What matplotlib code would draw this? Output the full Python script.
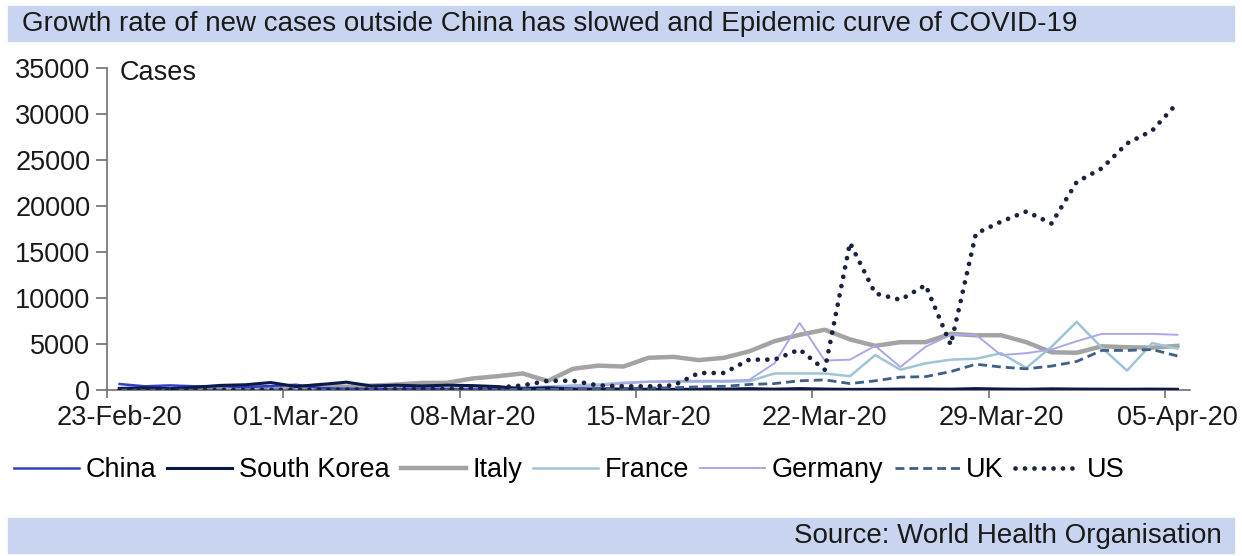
import numpy as np
import matplotlib
matplotlib.use("Agg")
import matplotlib.pyplot as plt
from matplotlib.patches import Rectangle

plt.rcParams['font.family'] = ['Liberation Sans', 'DejaVu Sans']

# ---- data (daily new cases, 23-Feb-20 .. 05-Apr-20) ----
china = [650, 400, 500, 400, 430, 330, 430, 570, 200, 130, 120, 140, 150, 100, 50, 45,
         20, 30, 25, 10, 20, 30, 30, 40, 40, 80, 40, 40, 50, 80, 70, 50, 60, 80, 60, 50,
         30, 50, 40, 40, 70, 50, 50]
south_korea = [170, 230, 140, 280, 500, 570, 810, 380, 600, 850, 440, 520, 440, 520, 480,
               370, 130, 240, 110, 110, 110, 80, 70, 85, 95, 150, 90, 150, 100, 65, 75,
               100, 105, 90, 150, 105, 80, 125, 100, 90, 85, 95, 80]
italy = [100, 60, 100, 100, 80, 250, 240, 240, 560, 350, 470, 590, 770, 780, 1250, 1500,
         1800, 980, 2300, 2650, 2550, 3500, 3600, 3250, 3500, 4200, 5300, 6000, 6550, 5500,
         4800, 5200, 5200, 6100, 5950, 5950, 5200, 4100, 4050, 4750, 4650, 4600, 4800]
france = [0, 0, 2, 0, 20, 20, 40, 30, 60, 20, 80, 90, 140, 200, 180, 250, 290, 370, 500,
          600, 800, 900, 900, 900, 900, 950, 1800, 1800, 1800, 1500, 3800, 2200, 2900, 3300,
          3400, 4000, 2400, 4700, 7400, 4600, 2100, 5100, 4500]
germany = [0, 0, 2, 10, 20, 40, 20, 60, 40, 30, 80, 100, 170, 130, 150, 250, 280, 350, 370,
           450, 700, 900, 1000, 1000, 1000, 1100, 2900, 7300, 3200, 3300, 4800, 2500, 4700,
           6000, 6000, 3800, 4000, 4400, 5300, 6100, 6100, 6100, 6000]
uk = [0, 0, 0, 4, 2, 5, 3, 12, 10, 8, 20, 30, 40, 40, 50, 60, 80, 70, 130, 150, 160, 200,
      250, 350, 400, 600, 700, 1000, 1100, 700, 1000, 1400, 1450, 2000, 2800, 2500, 2300,
      2600, 3100, 4300, 4300, 4400, 3700]
us = [0, 10, 20, 10, 10, 20, 20, 30, 20, 40, 60, 80, 100, 100, 200, 250, 500, 1000, 1000,
      500, 400, 400, 500, 1850, 1850, 3300, 3300, 4400, 2200, 16000, 10500, 9800, 11400,
      4900, 17000, 18300, 19400, 18100, 22600, 24100, 26800, 28200, 31200]

tick_labels = ['23-Feb-20', '01-Mar-20', '08-Mar-20', '15-Mar-20',
               '22-Mar-20', '29-Mar-20', '05-Apr-20']
yticks = [0, 5000, 10000, 15000, 20000, 25000, 30000, 35000]

title = "Growth rate of new cases outside China has slowed and Epidemic curve of COVID-19"
source = "Source: World Health Organisation"

# ---- figure ----
W, H = 1242, 556
fig = plt.figure(figsize=(W / 100, H / 100), dpi=100)
band = '#c8d4f0'
txt = '#1a1a1a'
fig.patches.append(Rectangle((8 / W, 1 - 41 / H), 1226 / W, 35 / H,
                             transform=fig.transFigure, color=band, zorder=0))
fig.patches.append(Rectangle((8 / W, 1 - 553 / H), 1226 / W, 35 / H,
                             transform=fig.transFigure, color=band, zorder=0))
fig.text(22 / W, 1 - 24 / H, title, fontsize=20, color=txt, ha='left', va='center')
fig.text(1222 / W, 1 - 536 / H, source, fontsize=20, color=txt, ha='right', va='center')

ax = fig.add_axes([107 / W, 1 - 390 / H, (1190 - 107) / W, (390 - 68) / H])
x = np.arange(len(china))

ax.plot(x, china, color='#2f3fc8', lw=1.8, label='China', zorder=3)
ax.plot(x, south_korea, color='#0b1848', lw=2.2, label='South Korea', zorder=3)
ax.plot(x, italy, color='#a3a3a3', lw=3.2, label='Italy', zorder=2)
ax.plot(x, france, color='#9fc4d8', lw=1.8, label='France', zorder=2)
ax.plot(x, germany, color='#aba7e8', lw=1.4, label='Germany', zorder=2)
ax.plot(x, uk, color='#3e5f86', lw=2.0, ls=(0, (3.2, 1.8)), label='UK', zorder=4)
ax.plot(x, us, color='#1b2140', lw=3.4, ls=(0, (0.01, 2.0)),
        dash_capstyle='round', label='US', zorder=5)

ax.set_xlim(-0.5, len(china) - 0.5)
ax.set_ylim(0, 35000)
ax.set_yticks(yticks)
ax.set_yticklabels([str(v) for v in yticks])
ax.set_xticks(np.arange(0, len(china), 7))
ax.set_xticklabels(tick_labels)
ax.set_xticks(np.arange(-0.5, len(china), 7), minor=True)
ax.tick_params(axis='x', which='major', length=0, pad=11, labelsize=19.5,
               labelcolor=txt)
ax.tick_params(axis='x', which='minor', length=6, width=1.2, color='#6e6e6e')
ax.tick_params(axis='y', length=8, width=1.2, color='#6e6e6e', pad=4,
               labelsize=19.5, labelcolor=txt)
for s in ['top', 'right']:
    ax.spines[s].set_visible(False)
for s in ['left', 'bottom']:
    ax.spines[s].set_color('#6e6e6e')
    ax.spines[s].set_linewidth(1.2)
ax.text(0.012, 0.985, 'Cases', transform=ax.transAxes, fontsize=19.5,
        color=txt, ha='left', va='center')

handles, labels = ax.get_legend_handles_labels()
fig.legend(handles, labels, loc='center left', bbox_to_anchor=(14 / W, 1 - 470 / H),
           ncol=7, frameon=False, fontsize=19.5, handlelength=2.4,
           handletextpad=0.25, columnspacing=0.4, borderaxespad=0, borderpad=0)

fig.savefig('out.png', dpi=100, facecolor='white')
